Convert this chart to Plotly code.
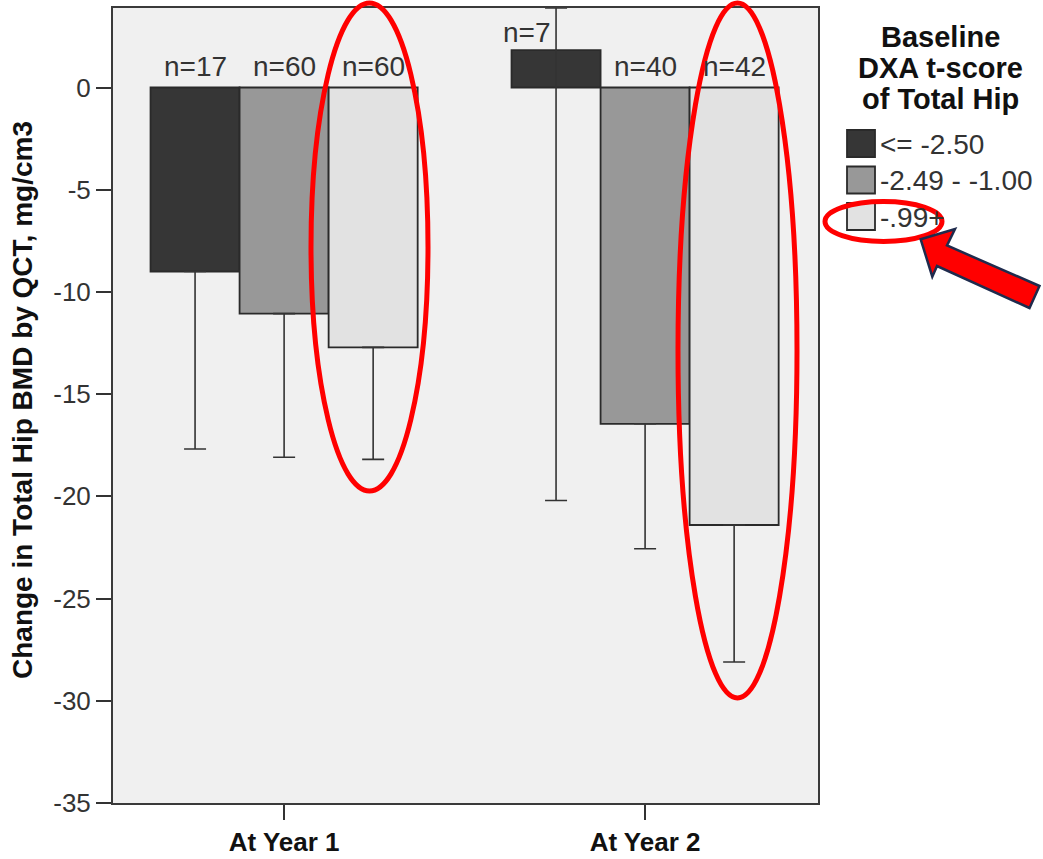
import plotly.graph_objects as go

# Change in total hip BMD (QCT), grouped by baseline DXA t-score category
categories = ["At Year 1", "At Year 2"]
groups = ["<= -2.50", "-2.49 - -1.00", "-.99+"]
mean_change = {
    "<= -2.50": [-9.00, 1.83],
    "-2.49 - -1.00": [-11.06, -16.45],
    "-.99+": [-12.71, -21.40],
}
ci_lower = {
    "<= -2.50": [-17.68, -20.20],
    "-2.49 - -1.00": [-18.09, -22.56],
    "-.99+": [-18.19, -28.10],
}
n_counts = {
    "<= -2.50": [17, 7],
    "-2.49 - -1.00": [60, 40],
    "-.99+": [60, 42],
}
y_ticks = [0, -5, -10, -15, -20, -25, -30, -35]

colors = {"<= -2.50": "#363636", "-2.49 - -1.00": "#989898", "-.99+": "#e2e2e2"}
edge = "#2a2a2a"
font = "Liberation Sans, Arial, sans-serif"

W, H = 1043, 859
ML, MR, MT, MB = 113, 225, 8, 56
Y_MIN, Y_MAX = -35, 3.89
X_MIN, X_MAX = -0.474, 1.479


def px(x):
    return (x - ML) / (W - ML - MR)


def py(y):
    return (H - MB - y) / (H - MT - MB)


fig = go.Figure()
ngroups = len(groups)
slot = (1 - 0.26) / ngroups
for gi, g in enumerate(groups):
    means = mean_change[g]
    lows = ci_lower[g]
    highs = [2 * m - lo for m, lo in zip(means, lows)]
    # whiskers only outside the bar; upper end clipped at the axis top
    minus = [m - lo for m, lo in zip(means, lows)]
    plus = [min(h, Y_MAX) - m if m > 0 else 0 for m, h in zip(means, highs)]
    fig.add_trace(go.Bar(
        x=categories, y=means, name=g,
        marker=dict(color=colors[g], line=dict(color=edge, width=1.8)),
        error_y=dict(type="data", symmetric=False, array=plus, arrayminus=minus,
                     color="#333333", thickness=1.6, width=11),
        showlegend=False,
    ))
    for ci, cat in enumerate(categories):
        xc = ci + (gi - (ngroups - 1) / 2) * slot
        m = means[ci]
        if m > 0:
            fig.add_annotation(x=xc, y=m, xref="x", yref="y", text=f"n={n_counts[g][ci]}",
                               showarrow=False, xanchor="right", yanchor="bottom",
                               xshift=-3, yshift=0,
                               font=dict(family=font, size=28, color="#333333"))
        else:
            fig.add_annotation(x=xc, y=0, xref="x", yref="y", text=f"n={n_counts[g][ci]}",
                               showarrow=False, xanchor="center", yanchor="bottom",
                               yshift=4,
                               font=dict(family=font, size=28, color="#333333"))

# y axis title
fig.add_annotation(x=px(22), y=py(400), xref="paper", yref="paper",
                   text="Change in Total Hip BMD by QCT, mg/cm3", textangle=-90,
                   showarrow=False, xanchor="center", yanchor="middle",
                   font=dict(family=font, size=28, color="#111111", weight="bold"))

# legend block
for line, yy in zip(["Baseline", "DXA t-score", "of Total Hip"], [37, 68, 99]):
    fig.add_annotation(x=px(941), y=py(yy), xref="paper", yref="paper", text=line,
                       showarrow=False, xanchor="center", yanchor="middle",
                       font=dict(family=font, size=29, color="#111111", weight="bold"))
for g, yc in zip(groups, [143.5, 180, 216.5]):
    fig.add_shape(type="rect", xref="paper", yref="paper",
                  x0=px(847), x1=px(875), y0=py(yc - 13.5), y1=py(yc + 13.5),
                  fillcolor=colors[g], line=dict(color=edge, width=1.8))
    fig.add_annotation(x=px(878), y=py(yc + 1), xref="paper", yref="paper", text=g,
                       showarrow=False, xanchor="left", yanchor="middle",
                       font=dict(family=font, size=28, color="#333333"))

# red highlight ellipses
for (x0, x1, y0, y1) in [(311, 428, 3, 491), (678, 797, 3, 698), (825, 942, 201.5, 241.5)]:
    fig.add_shape(type="circle", xref="paper", yref="paper",
                  x0=px(x0), x1=px(x1), y0=py(y1), y1=py(y0),
                  line=dict(color="#ff0000", width=5), layer="above")

# red arrow pointing at the last legend entry
arrow_pts = [(920.7, 239.3), (955, 229), (947, 245.5), (1039.5, 286), (1029.5, 308),
             (937, 266), (932.3, 276.7)]
path = "M " + " L ".join(f"{px(x):.5f},{py(y):.5f}" for x, y in arrow_pts) + " Z"
fig.add_shape(type="path", xref="paper", yref="paper", path=path,
              fillcolor="#ff0000", line=dict(color="#1f2b4d", width=2.5), layer="above")

fig.update_layout(
    width=W, height=H,
    margin=dict(l=ML, r=MR, t=MT, b=MB, autoexpand=False),
    paper_bgcolor="white", plot_bgcolor="#f0f0f0",
    barmode="group", bargap=0.26, bargroupgap=0,
    showlegend=False,
    font=dict(family=font),
)
fig.update_xaxes(
    range=[X_MIN, X_MAX], showgrid=False, zeroline=False, automargin=False,
    showline=True, mirror=True, linecolor="#3a3a3a", linewidth=2,
    ticks="outside", ticklen=15, tickwidth=1.5, tickcolor="#333333",
    tickfont=dict(family=font, size=26, color="#111111", weight="bold"),
)
fig.update_yaxes(
    range=[Y_MIN, Y_MAX], tickvals=y_ticks, ticktext=[str(v) for v in y_ticks],
    showgrid=False, zeroline=False, automargin=False,
    showline=True, mirror=True, linecolor="#3a3a3a", linewidth=2,
    ticks="outside", ticklen=15, tickwidth=1.5, tickcolor="#333333",
    tickfont=dict(family=font, size=26, color="#333333"),
)

fig.write_html("out.html")
